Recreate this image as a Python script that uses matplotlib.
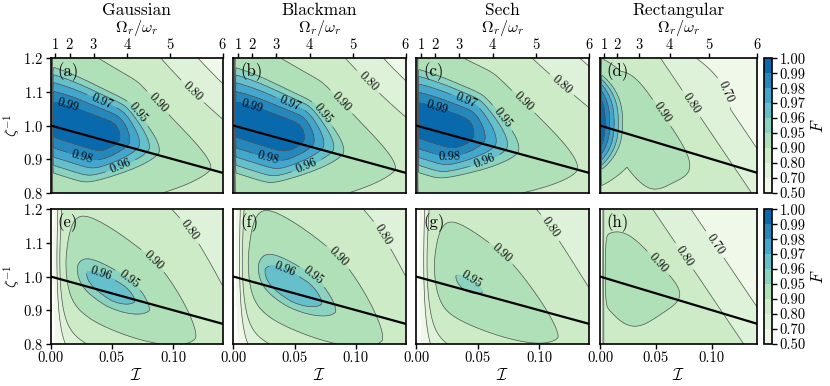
import numpy as np
import matplotlib
matplotlib.use("Agg")
import matplotlib.pyplot as plt

plt.rcParams['font.family'] = 'serif'
plt.rcParams['font.serif'] = ['cmr10']
plt.rcParams['mathtext.fontset'] = 'cm'
plt.rcParams['axes.formatter.use_mathtext'] = True

IMAX = 36 / 256.0
titles = ["Gaussian", "Blackman", "Sech", "Rectangular"]
letters = ["(a)", "(b)", "(c)", "(d)", "(e)", "(f)", "(g)", "(h)"]
levels = [0.5, 0.7, 0.8, 0.9, 0.95, 0.96, 0.97, 0.98, 0.99, 1.0]
omega_ticks = [1, 2, 3, 4, 5, 6]

# fidelity landscape, built from lobes (normalised X=I/IMAX, Y=(z-0.8)/0.4)
# each lobe: which panel, peak value, centre, tilt, and decay scales/powers on each side
C_PANEL = [0, 1, 2, 3, 3, 3, 4, 5, 6, 7, 7]
C_FMAX = [1.0, 1.0, 1.0, 1.0, 0.925, 0.895, 0.966, 0.969, 0.953, 0.925, 0.895]
C_X0 = [0.12, 0.12, 0.10, 0.0, 0.22, 0.0, 0.39, 0.38, 0.30, 0.22, 0.0]
C_Y0 = [0.50, 0.50, 0.50, 0.52, 0.48, 0.0, 0.39, 0.40, 0.45, 0.45, 0.0]
C_TH = [-22, -22, -22, 0, -60, 30, -38, -38, -38, -52, 30]
C_U0 = [0.24, 0.25, 0.18, 0.0, 0.0, 0.67, 0.0, 0.0, 0.0, 0.0, 0.613]
C_AU = [0.30, 0.30, 0.34, 0.14, 0.55, 0.073, 0.46, 0.48, 0.606, 0.33, 0.079]
C_PU = [1.0, 1.0, 1.0, 1.1, 4.0, 1.0, 1.6, 1.6, 1.6, 4.0, 1.0]
C_AM = [0.8, 0.8, 0.8, 1.0, 0.5, 1e3, 0.9, 0.9, 0.9, 0.46, 1e3]
C_PM = [2.0, 2.0, 2.0, 2.0, 4.0, 2.0, 2.0, 2.0, 2.0, 4.0, 2.0]
C_BU = [0.33, 0.33, 0.339, 0.36, 0.24, 1e3, 0.246, 0.26, 0.273, 0.245, 1e3]
C_PBU = [1.7, 1.7, 1.7, 2.5, 4.0, 2.0, 1.4, 1.4, 1.4, 4.0, 2.0]
C_KU = [0.55, 0.52, 0.35, 0.0, 0.0, 0.0, 0.5, 0.5, 0.5, 0.0, 0.0]
C_BM = [0.36, 0.36, 0.35, 0.35, 0.22, 1e3, 0.22, 0.22, 0.24, 0.29, 1e3]
C_PBM = [1.45, 1.45, 1.5, 2.5, 4.0, 2.0, 2.0, 2.0, 2.0, 4.0, 2.0]
# drop of the fidelity towards I -> 0, per panel
XE = [0.006, 0.006, 0.006, 0.004, 0.026, 0.026, 0.032, 0.014]
QE = [2.0, 2.0, 2.0, 2.0, 0.84, 0.84, 0.9, 1.5]

# contour labels: level and where it sits (I, zeta^-1)
label_lev = [
    [0.99, 0.98, 0.97, 0.96, 0.95, 0.90, 0.80],
    [0.99, 0.98, 0.97, 0.96, 0.95, 0.90, 0.80],
    [0.99, 0.98, 0.97, 0.96, 0.95, 0.90, 0.80],
    [0.90, 0.80, 0.70],
    [0.96, 0.95, 0.90, 0.80],
    [0.96, 0.95, 0.90, 0.80],
    [0.95, 0.90, 0.80],
    [0.90, 0.80, 0.70],
]
label_pos = [
    [(0.0141, 1.058), (0.0256, 0.906), (0.0428, 1.082), (0.0592, 0.859), (0.0714, 1.037), (0.0877, 1.067), (0.1155, 1.100)],
    [(0.0150, 1.058), (0.0286, 0.907), (0.0477, 1.076), (0.0625, 0.856), (0.0734, 1.036), (0.0884, 1.071), (0.110, 1.130)],
    [(0.0168, 1.048), (0.0276, 0.902), (0.0398, 1.071), (0.0588, 0.868), (0.0697, 1.021), (0.0859, 1.066), (0.117, 1.115)],
    [(0.0567, 1.041), (0.0821, 1.066), (0.103, 1.086)],
    [(0.0430, 1.028), (0.0662, 1.005), (0.0853, 1.054), (0.107, 1.119)],
    [(0.0435, 1.033), (0.0666, 1.010), (0.0846, 1.054), (0.113, 1.104)],
    [(0.0466, 0.998), (0.0710, 1.076), (0.109, 1.145)],
    [(0.0522, 1.040), (0.0776, 1.065), (0.0999, 1.089)],
]

band_colors = plt.cm.GnBu(np.linspace(0.04, 0.87, 9))


def lobe(j, X, Y):
    t = np.deg2rad(C_TH[j])
    dx, dy = X - C_X0[j], Y - C_Y0[j]
    u = dx * np.cos(t) + dy * np.sin(t)
    v = -dx * np.sin(t) + dy * np.cos(t)
    w = 0.02
    up = w * np.logaddexp(0, (u - C_U0[j]) / w) if C_U0[j] > 0 else np.clip(u, 0, None)
    gu = (up / C_AU[j]) ** C_PU[j] + (np.clip(-u, 0, None) / C_AM[j]) ** C_PM[j]
    bp = C_BU[j] * np.exp(-C_KU[j] * u)
    gv = (np.clip(v, 0, None) / bp) ** C_PBU[j] + (np.clip(-v, 0, None) / C_BM[j]) ** C_PBM[j]
    return C_FMAX[j] * np.exp(-0.05 * (gu + gv))


def field(k, I, Z):
    X = I / IMAX
    Y = (Z - 0.8) / 0.4
    F = np.zeros_like(X)
    for j, p in enumerate(C_PANEL):
        if p == k:
            F = np.maximum(F, lobe(j, X, Y))
    return F * (1 - np.exp(-(X / XE[k]) ** QE[k]))


W, H = 830, 386
fig = plt.figure(figsize=(W / 100, H / 100), dpi=100)
lefts = [50.7, 233.3, 416, 600]
widths = [172, 172.4, 173, 157.3]
tops = [58.3, 209.3]
hgt = 134.5

I = np.linspace(0, IMAX, 400)
Z = np.linspace(0.8, 1.2, 400)
II, ZZ = np.meshgrid(I, Z)

for r in range(2):
    for c in range(4):
        k = r * 4 + c
        ax = fig.add_axes([lefts[c] / W, 1 - (tops[r] + hgt) / H, widths[c] / W, hgt / H])
        F = field(k, II, ZZ)
        cf = ax.contourf(II, ZZ, F, levels=levels, colors=band_colors)
        for lev in levels[1:-1]:
            if F.max() <= lev:
                continue
            cs = ax.contour(II, ZZ, F, levels=[lev], colors='#555555', linewidths=0.5)
            pos = [p for l, p in zip(label_lev[k], label_pos[k]) if l == lev]
            if pos:
                ax.clabel(cs, inline=True, fontsize=9, fmt='%.2f', colors='black', manual=pos)
        ax.plot(I, 1 - I, color='black', lw=1.6)
        ax.set_xlim(0, IMAX)
        ax.set_ylim(0.8, 1.2)
        for s in ax.spines.values():
            s.set_linewidth(1.2)
        ax.text(0.04, 0.97, letters[k], transform=ax.transAxes, va='top', ha='left', fontsize=12)
        ax.tick_params(labelsize=10.5, width=1, length=3.5, pad=2)
        if c == 0:
            ax.set_yticks([0.8, 0.9, 1.0, 1.1, 1.2])
            ax.set_ylabel(r'$\zeta^{-1}$', fontsize=11)
            ax.yaxis.set_label_coords(-0.162, 0.5)
        else:
            ax.set_yticks([])
        if r == 1:
            ax.set_xticks([0.0, 0.05, 0.1])
            ax.set_xticklabels(['0.00', '0.05', '0.10'])
            ax.set_xlabel(r'$\mathcal{I}$', fontsize=12, labelpad=1)
        else:
            ax.set_xticks([])
            sec = ax.secondary_xaxis('top', functions=(lambda x: np.sqrt(np.clip(x, 0, None) * 256),
                                                       lambda o: o ** 2 / 256))
            sec.set_xticks(omega_ticks)
            sec.tick_params(labelsize=10.5, width=1, length=3.5, pad=1)
            xc = (lefts[c] + widths[c] / 2) / W
            fig.text(xc, 1 - 28 / H, r'$\Omega_r/\omega_r$', ha='center', va='center', fontsize=11.5)
            fig.text(xc, 1 - 10.5 / H, titles[c], ha='center', va='center', fontsize=12.5)
        if c == 3:
            cax = fig.add_axes([764.3 / W, 1 - (tops[r] + hgt) / H, 7.7 / W, hgt / H])
            cb = fig.colorbar(cf, cax=cax, ticks=levels)
            cb.ax.set_yticklabels(['%.2f' % l for l in levels])
            cb.ax.tick_params(labelsize=10.5, width=1, length=3.5, pad=2)
            cb.outline.set_linewidth(1.2)
            cb.set_label(r'$F$', fontsize=12, labelpad=3)

fig.savefig('out.png', dpi=100)
